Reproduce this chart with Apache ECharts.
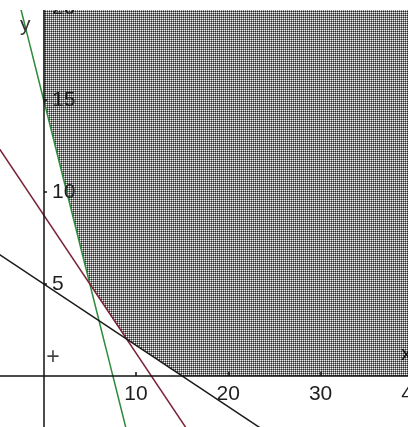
<!DOCTYPE html>
<html>
<head>
<meta charset="utf-8">
<script src="https://cdn.jsdelivr.net/npm/echarts@6/dist/echarts.min.js"></script>
<style>
html, body { margin: 0; padding: 0; background: #fff; }
#chart { width: 408px; height: 427px; }
</style>
</head>
<body>
<div id="chart"></div>
<script>
// tick labels
var xTicks = [10, 20, 30, 40];
var yTicks = [5, 10, 15, 20];

// boundary lines (two points each)
var greenLine = [[-3, 21], [9, -3]];      // 2x + y = 15
var redLine = [[-5, 12.5], [17, -4]];     // 3x + 4y = 35
var blackLine = [[-6, 7], [24, -3]];      // x + 3y = 15

// feasible region corners
var region = [[0, 21], [0, 15], [5, 5], [9, 2], [15, 0], [42, 0], [42, 21]];

// test point
var testPoint = [[1, 1]];

// dotted grey fill like the original
var pat = document.createElement('canvas');
pat.width = 2;
pat.height = 2;
var ctx = pat.getContext('2d');
ctx.fillStyle = '#858585';
ctx.fillRect(0, 0, 2, 2);
ctx.fillStyle = '#f2f2f2';
ctx.fillRect(0, 0, 1, 1);
ctx.fillStyle = '#2a2a2a';
ctx.fillRect(1, 1, 1, 1);

var font = 'Liberation Sans';

var chart = echarts.init(document.getElementById('chart'));
chart.setOption({
    animation: false,
    grid: { left: 0, right: -10, top: 0, bottom: 0, outerBoundsMode: 'none' },
    xAxis: {
        type: 'value',
        min: -4.73,
        max: 40.55,
        offset: -51,
        z: 5,
        splitLine: { show: false },
        axisLine: { onZero: false, lineStyle: { color: '#111', width: 1.5 } },
        axisTick: { customValues: xTicks, inside: true, length: 4, lineStyle: { color: '#111', width: 1.5 } },
        axisLabel: { customValues: xTicks, margin: 8, color: '#1e1e1e', fontFamily: font, fontSize: 21 }
    },
    yAxis: {
        type: 'value',
        min: -2.77,
        max: 20.43,
        offset: -44,
        z: 5,
        splitLine: { show: false },
        axisLine: { onZero: false, lineStyle: { color: '#111', width: 1.5 } },
        axisTick: { customValues: yTicks, inside: true, length: 3, lineStyle: { color: '#111', width: 1.5 } },
        axisLabel: { customValues: yTicks, inside: true, margin: 8, color: '#1e1e1e', fontFamily: font, fontSize: 21 }
    },
    graphic: [
        // blank strip along the top edge, as in the original
        { type: 'rect', left: 0, top: 0, z: 100, shape: { width: 408, height: 10 }, style: { fill: '#fff' } },
        { type: 'text', left: 20, top: 15, z: 10, style: { text: 'y', fill: '#333', font: '21px "Liberation Sans"' } },
        { type: 'text', left: 401, top: 344, z: 10, style: { text: 'x', fill: '#111', font: '21px "Liberation Sans"' } }
    ],
    series: [
        {
            type: 'custom',
            z: 1,
            data: [0],
            renderItem: function (params, api) {
                var pts = region.map(function (p) { return api.coord(p); });
                return {
                    type: 'polygon',
                    shape: { points: pts },
                    style: { fill: { image: pat, repeat: 'repeat' }, stroke: null }
                };
            }
        },
        {
            type: 'line', data: greenLine, symbol: 'none', z: 3,
            lineStyle: { color: '#2e8a3c', width: 1.5 }
        },
        {
            type: 'line', data: redLine, symbol: 'none', z: 3,
            lineStyle: { color: '#7a2236', width: 1.5 }
        },
        {
            type: 'line', data: blackLine, symbol: 'none', z: 3,
            lineStyle: { color: '#1a1a1a', width: 1.5 }
        },
        {
            type: 'scatter', data: testPoint, symbolSize: 0, z: 4,
            label: { show: true, position: 'inside', formatter: '+', color: '#111', fontFamily: font, fontSize: 23 }
        }
    ]
});

window.addEventListener('resize', function () {
    chart.resize();
});
</script>
</body>
</html>
